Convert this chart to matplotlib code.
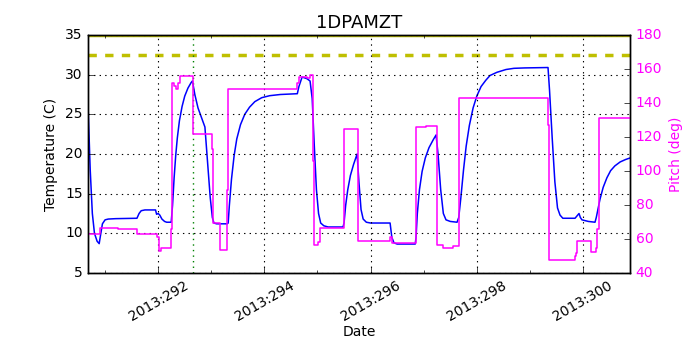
import numpy as np
import matplotlib
matplotlib.use('Agg')
import matplotlib.pyplot as plt
from matplotlib.ticker import FuncFormatter, MultipleLocator

# 1DPAMZT model temperature vs. day of year (2013)
temp_days = [290.682, 290.72, 290.76, 290.80, 290.85, 290.889, 290.91, 290.95, 291.00, 291.06,
             291.20, 291.60, 291.64, 291.68, 291.75, 291.95, 291.97, 292.00, 292.03, 292.07,
             292.12, 292.16, 292.245, 292.27, 292.30, 292.33, 292.36, 292.40, 292.45, 292.50,
             292.56, 292.62, 292.645, 292.69, 292.75, 292.82, 292.88, 292.93, 292.98, 293.02,
             293.05, 293.10, 293.30, 293.318, 293.34, 293.38, 293.43, 293.48, 293.55, 293.63,
             293.72, 293.82, 293.95, 294.10, 294.30, 294.62, 294.65, 294.71, 294.80, 294.86,
             294.90, 294.94, 294.98, 295.02, 295.06, 295.12, 295.20, 295.48, 295.50, 295.53,
             295.57, 295.62, 295.68, 295.746, 295.78, 295.82, 295.86, 295.92, 296.00, 296.367,
             296.40, 296.44, 296.50, 296.84, 296.856, 296.88, 296.92, 296.97, 297.03, 297.10,
             297.18, 297.233, 297.27, 297.32, 297.37, 297.42, 297.50, 297.628, 297.66, 297.70,
             297.75, 297.80, 297.86, 297.93, 298.00, 298.08, 298.17, 298.25, 298.38, 298.55,
             298.70, 298.90, 299.341, 299.37, 299.42, 299.47, 299.52, 299.567, 299.62, 299.85,
             299.90, 299.925, 299.95, 299.98, 300.10, 300.226, 300.25, 300.28, 300.32, 300.38,
             300.45, 300.52, 300.60, 300.70, 300.80, 300.885]
temp_vals = [25.5, 18.0, 12.5, 10.0, 9.0, 8.7, 9.6, 11.2, 11.7, 11.8,
             11.85, 11.9, 12.5, 12.85, 12.95, 12.95, 12.4, 12.5, 12.3, 11.8,
             11.5, 11.4, 11.4, 13.5, 17.0, 19.8, 22.0, 24.2, 26.0, 27.3,
             28.3, 29.0, 29.2, 27.5, 25.8, 24.5, 23.4, 19.0, 14.5, 12.0,
             11.3, 11.2, 11.2, 11.3, 13.5, 16.8, 19.8, 21.9, 23.7, 25.0,
             25.9, 26.6, 27.1, 27.35, 27.5, 27.6, 28.5, 29.7, 29.5, 29.2,
             27.0, 21.0, 15.5, 12.5, 11.3, 10.95, 10.8, 10.8, 11.3, 13.5,
             15.5, 17.3, 18.7, 20.0, 16.5, 13.0, 11.8, 11.4, 11.3, 11.3,
             9.5, 8.8, 8.65, 8.65, 9.5, 12.5, 15.5, 17.8, 19.5, 20.8,
             21.8, 22.4, 20.0, 15.5, 12.5, 11.7, 11.5, 11.4, 12.0, 14.5,
             18.0, 21.0, 23.6, 25.8, 27.3, 28.5, 29.3, 29.9, 30.3, 30.65,
             30.8, 30.85, 30.9, 28.0, 22.0, 16.5, 13.2, 12.3, 11.9, 11.9,
             12.3, 12.5, 12.0, 11.7, 11.5, 11.4, 12.0, 13.0, 14.3, 15.8,
             17.0, 17.9, 18.5, 19.0, 19.3, 19.5]

# commanded pitch (step changes)
pitch_days = [290.682, 290.908, 291.247, 291.605, 291.98, 292.02, 292.06, 292.245, 292.26, 292.30,
              292.33, 292.37, 292.41, 292.655, 293.016, 293.035, 293.167, 293.299, 293.318, 294.616,
              294.66, 294.80, 294.86, 294.918, 294.93, 295.012, 295.049, 295.501, 295.765, 296.367,
              296.40, 296.856, 297.05, 297.252, 297.365, 297.553, 297.666, 299.34, 299.36, 299.849,
              299.87, 299.887, 300.15, 300.25, 300.27, 300.301, 300.885]
pitch_vals = [63, 66.5, 66, 63, 61, 53, 55, 66, 152, 150,
              148, 152, 156, 122, 113, 69.5, 53.5, 89, 148, 152,
              155.5, 154.8, 156.5, 106, 56.5, 58, 66.5, 124.7, 58.8, 61,
              57.5, 126, 126.5, 56.5, 55, 56, 143, 127, 47.6, 50,
              52, 59, 52.5, 55, 66, 131, 131]

planning_limit = 32.5
red_limit = 35.0
now_day = 292.66

plt.style.use('classic')
fig = plt.figure(figsize=(7, 3.5), dpi=100, facecolor='white')
ax = fig.add_axes([0.126, 0.22, 0.774, 0.68])

ax.plot(temp_days, temp_vals, color='b', lw=1.1)
ax.axhline(planning_limit, color='y', ls='--', lw=2.5)
ax.axhline(red_limit, color='y', ls='-', lw=2.5)
ax.axvline(now_day, color='g', ls=':', lw=1)

ax.set_xlim(290.682, 300.885)
ax.set_ylim(5, 35)
ax.xaxis.set_major_locator(MultipleLocator(2))
ax.xaxis.set_minor_locator(MultipleLocator(1))
ax.xaxis.set_major_formatter(FuncFormatter(lambda d, pos: '2013:%03d' % int(round(d))))
ax.grid(True, color='k', ls=':', lw=0.8)
ax.set_title('1DPAMZT', fontsize=13)
ax.set_ylabel('Temperature (C)', fontsize=10)
ax.set_xlabel('Date', fontsize=10, labelpad=1)
ax.tick_params(labelsize=10, top=False)
ax.tick_params(axis='y', right=False)
for lbl in ax.get_xticklabels():
    lbl.set_rotation(30)
    lbl.set_ha('center')

ax2 = ax.twinx()
ax2.plot(pitch_days, pitch_vals, color='#ff00ff', lw=1.1, drawstyle='steps-post')
ax2.set_xlim(290.682, 300.885)
ax2.set_ylim(40, 180)
ax2.set_ylabel('Pitch (deg)', color='#ff00ff', fontsize=10)
ax2.tick_params(axis='y', colors='k', labelcolor='#ff00ff', labelsize=10)
ax2.tick_params(top=False)

fig.savefig('out.png', dpi=100, facecolor='white')
